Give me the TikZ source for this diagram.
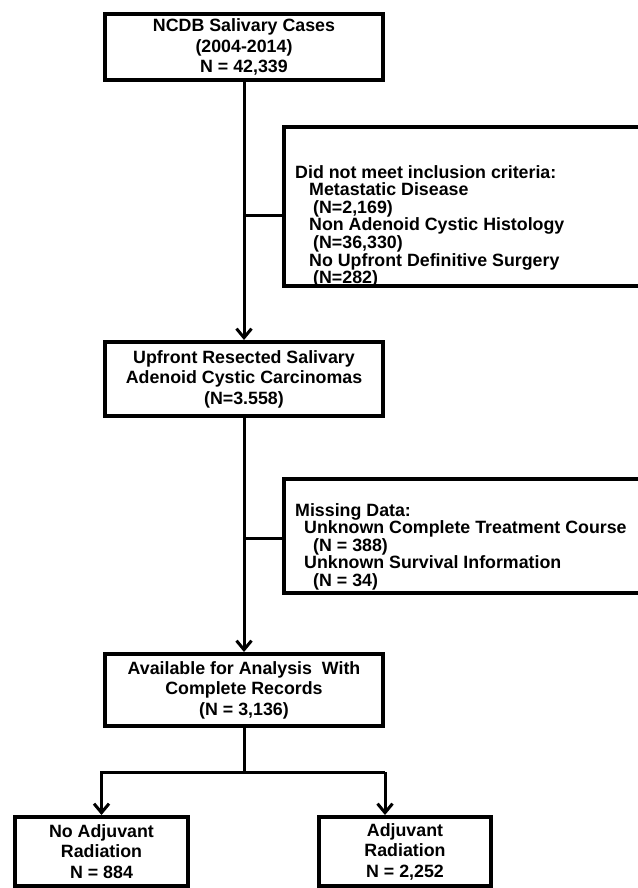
\documentclass[tikz,border=0pt]{standalone}
\usepackage{fontspec}
\setmainfont{Liberation Sans}
\usepackage{tikz}
\usetikzlibrary{arrows.meta}
\usetikzlibrary{positioning}
\usetikzlibrary{calc}
\newcommand\boxfont{\fontsize{17.8}{20.5}\selectfont\bfseries\lineskiplimit=-20pt\relax}
\newcommand\notefont{\fontsize{17.8}{17.6}\selectfont\bfseries\lineskiplimit=-20pt\relax}

\begin{document}
\begin{tikzpicture}[x=1pt,y=-1pt]
	          \useasboundingbox (0,0) rectangle (637,888);
	          \begin{scope}[every node/.style={rectangle,draw=black,line width=4pt,fill=white,align=center,font=\boxfont,inner sep=0pt}]
	            \node[minimum width=278pt,minimum height=66pt] (ncdb) at (244,47) {NCDB Salivary Cases\\(2004-2014)\\N = 42,339};
	            \node[minimum width=278pt,minimum height=74pt] (resected) at (244,379) {Upfront Resected Salivary\\Adenoid Cystic Carcinomas\\(N=3.558)};
	            \node[minimum width=278pt,minimum height=72pt] (complete) at (244,690) {Available for Analysis\ \ With\\Complete Records\\(N = 3,136)};
	            \node[minimum width=173pt,minimum height=69pt] (noadj) at (101.5,851.5) {No Adjuvant\\Radiation\\N = 884};
	            \node[minimum width=172pt,minimum height=69pt] (adj) at (405,851.5) {Adjuvant\\Radiation\\N = 2,252};
	            \node[minimum width=416pt,minimum height=159pt] (excl) at (492,206.5) {};
	            \node[minimum width=416pt,minimum height=114pt] (miss) at (492,536) {};
	          \end{scope}
	          \begin{scope}[every node/.style={align=left,anchor=north west,inner sep=0pt,font=\notefont}]
	            \node (exclnote) at (295,165) {Did not meet inclusion criteria:\\\hspace*{14pt}Metastatic Disease\\\hspace*{18pt}(N=2,169)\\\hspace*{14pt}Non Adenoid Cystic Histology\\\hspace*{18pt}(N=36,330)\\\hspace*{14pt}No Upfront Definitive Surgery\\\hspace*{18pt}(N=282)};
	            \node (missnote) at (295,503) {Missing Data:\\\hspace*{9pt}Unknown Complete Treatment Course\\\hspace*{18pt}(N = 388)\\\hspace*{9pt}Unknown Survival Information\\\hspace*{18pt}(N = 34)};
	          \end{scope}
	          \coordinate (exclin) at (244,215);
	          \coordinate (missin) at (244,538);
	          \coordinate (split) at (244,772);
	          \coordinate (adjin) at (385,772);
	          \begin{scope}[every edge/.style={draw=black,line width=3pt}]
	            \path (ncdb) edge[-{Straight Barb[length=9pt,width=15pt]}] (resected);
	            \path (resected) edge[-{Straight Barb[length=9pt,width=15pt]}] (complete);
	            \path (exclin) edge (exclin -| excl.west);
	            \path (missin) edge (missin -| miss.west);
	            \path (complete) edge (split);
	            \path (split) edge (adjin);
	          \end{scope}
	          \draw[line width=3pt,-{Straight Barb[length=9pt,width=15pt]}] (split) -| (noadj);
	          \draw[line width=3pt,-{Straight Barb[length=9pt,width=15pt]}] (adjin) -- (adjin |- adj.north);
	        \end{tikzpicture}
\end{document}
